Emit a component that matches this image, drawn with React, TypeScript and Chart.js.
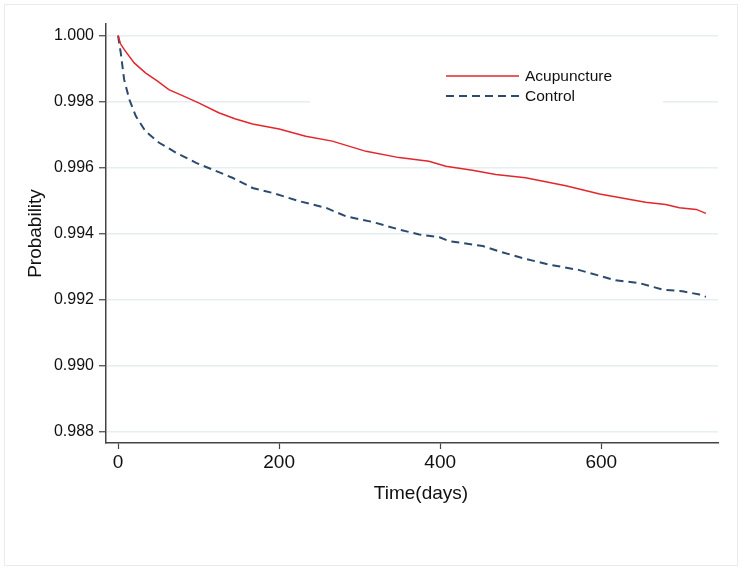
import { useEffect, useRef } from "react";
import { Chart, registerables } from "chart.js";

Chart.register(...registerables);

// Kaplan-Meier style curves
const acuDays = [
  0, 3, 7.5, 20, 34, 49, 63, 80, 100, 125, 145, 167, 200, 233, 266, 308, 349,
  386, 407, 440, 469, 506, 556, 598, 655, 680, 697, 718, 730,
];
const acuProb = [
  1.0, 0.99975, 0.99958, 0.99917, 0.99887, 0.99862, 0.99836, 0.99818, 0.99796,
  0.99766, 0.99748, 0.99732, 0.99717, 0.99695, 0.9968, 0.99649, 0.9963,
  0.99619, 0.99604, 0.99592, 0.99579, 0.99569, 0.99545, 0.9952, 0.99495,
  0.99488, 0.99478, 0.99473, 0.99461,
];

const ctrlDays = [
  0, 1.5, 3.3, 7.5, 14, 22, 34, 51, 72, 97, 117, 142, 167, 192, 225, 258, 283,
  316, 349, 374, 400, 411, 453, 473, 506, 535, 573, 618, 647, 676, 701, 722,
  730,
];
const ctrlProb = [
  1.0, 0.99975, 0.99948, 0.99867, 0.99806, 0.99756, 0.9971, 0.99675, 0.99645,
  0.99614, 0.99594, 0.99569, 0.99538, 0.99523, 0.99498, 0.99478, 0.99452,
  0.99435, 0.99412, 0.99397, 0.99388, 0.99377, 0.99362, 0.99346, 0.99323,
  0.99306, 0.99289, 0.99258, 0.9925, 0.9923, 0.99225, 0.99215, 0.99208,
];

const seriesLabels = ["Acupuncture", "Control"];
const xTicks = [0, 200, 400, 600];
const yTicks = [0.988, 0.99, 0.992, 0.994, 0.996, 0.998, 1.0];
const xTitle = "Time(days)";

const FONT = "'Liberation Sans', Arial, sans-serif";
const RED = "#e3262c";
const BLUE = "#2c4a6e";
const AXIS = "#444";
const GRID = "#e6eef1";

const framePlugin = {
  id: "frame",
  beforeDraw(chart: Chart) {
    const { ctx, width, height } = chart;
    ctx.save();
    ctx.fillStyle = "#fff";
    ctx.fillRect(0, 0, width, height);
    ctx.strokeStyle = "#ebebeb";
    ctx.lineWidth = 1;
    ctx.strokeRect(4.5, 4.5, width - 9, height - 10);
    ctx.restore();
  },
  afterDraw(chart: Chart) {
    // x title sits a little right of the plot centre in the original
    const { ctx, chartArea } = chart;
    ctx.save();
    ctx.font = `19px ${FONT}`;
    ctx.fillStyle = "#111";
    ctx.textAlign = "center";
    ctx.textBaseline = "middle";
    ctx.fillText(xTitle, (chartArea.left + chartArea.right) / 2 + 9, 494);
    ctx.restore();
  },
};

// legend sits inside the plot on a white box, like the Stata original
const insideLegend = {
  id: "insideLegend",
  beforeDatasetsDraw(chart: Chart) {
    const { ctx } = chart;
    ctx.save();
    ctx.fillStyle = "#fff";
    ctx.fillRect(310, 56, 353, 56);
    ctx.font = `15.5px ${FONT}`;
    ctx.textBaseline = "middle";
    ctx.fillStyle = "#111";
    chart.data.datasets.forEach((ds: any, i: number) => {
      const y = 76 + i * 20;
      ctx.beginPath();
      ctx.strokeStyle = ds.borderColor;
      ctx.lineWidth = ds.borderWidth;
      ctx.setLineDash(ds.borderDash || []);
      ctx.moveTo(446, y);
      ctx.lineTo(519, y);
      ctx.stroke();
      ctx.setLineDash([]);
      ctx.fillText(ds.label, 525, y + 1);
    });
    ctx.restore();
  },
};

export default function App() {
  const canvasRef = useRef<HTMLCanvasElement | null>(null);

  useEffect(() => {
    document.body.style.margin = "0";
    if (!canvasRef.current) return;

    const chart = new Chart(canvasRef.current, {
      type: "line",
      data: {
        datasets: [
          {
            label: seriesLabels[0],
            data: acuDays.map((d, i) => ({ x: d, y: acuProb[i] })),
            borderColor: RED,
            borderWidth: 1.5,
            pointRadius: 0,
            tension: 0,
          },
          {
            label: seriesLabels[1],
            data: ctrlDays.map((d, i) => ({ x: d, y: ctrlProb[i] })),
            borderColor: BLUE,
            borderWidth: 2,
            borderDash: [8, 5],
            pointRadius: 0,
            tension: 0,
          },
        ],
      },
      options: {
        responsive: false,
        animation: false,
        devicePixelRatio: 1,
        layout: {
          padding: { left: 0, top: 24, right: 24, bottom: 0 },
        },
        plugins: {
          legend: { display: false },
          tooltip: { enabled: false },
        },
        scales: {
          x: {
            type: "linear",
            min: -15,
            max: 745,
            afterFit: (scale) => {
              scale.height = 128;
            },
            afterBuildTicks: (scale) => {
              scale.ticks = xTicks.map((v) => ({ value: v }));
            },
            border: { color: AXIS, width: 1.5 },
            grid: {
              drawOnChartArea: false,
              tickLength: 6,
              tickColor: AXIS,
              tickWidth: 1.2,
            },
            ticks: {
              color: "#111",
              padding: 2,
              font: { size: 19, family: FONT },
              maxRotation: 0,
            },
          },
          y: {
            type: "linear",
            min: 0.98765,
            max: 1.00035,
            afterFit: (scale) => {
              scale.width = 106;
            },
            afterBuildTicks: (scale) => {
              scale.ticks = yTicks.map((v) => ({ value: v }));
            },
            border: { color: AXIS, width: 1.5 },
            grid: {
              color: GRID,
              lineWidth: 1.5,
              tickLength: 7,
              tickColor: AXIS,
              tickWidth: 1.2,
            },
            ticks: {
              color: "#111",
              padding: 5,
              font: { size: 16, family: FONT },
              callback: (value) => Number(value).toFixed(3),
            },
            title: {
              display: true,
              text: "Probability",
              color: "#111",
              font: { size: 19, family: FONT },
              padding: { top: 24, bottom: 4 },
            },
          },
        },
      },
      plugins: [framePlugin, insideLegend],
    });

    return () => {
      chart.destroy();
    };
  }, []);

  return (
    <div style={{ width: 742, height: 571 }}>
      <canvas ref={canvasRef} width={742} height={571}></canvas>
    </div>
  );
}
